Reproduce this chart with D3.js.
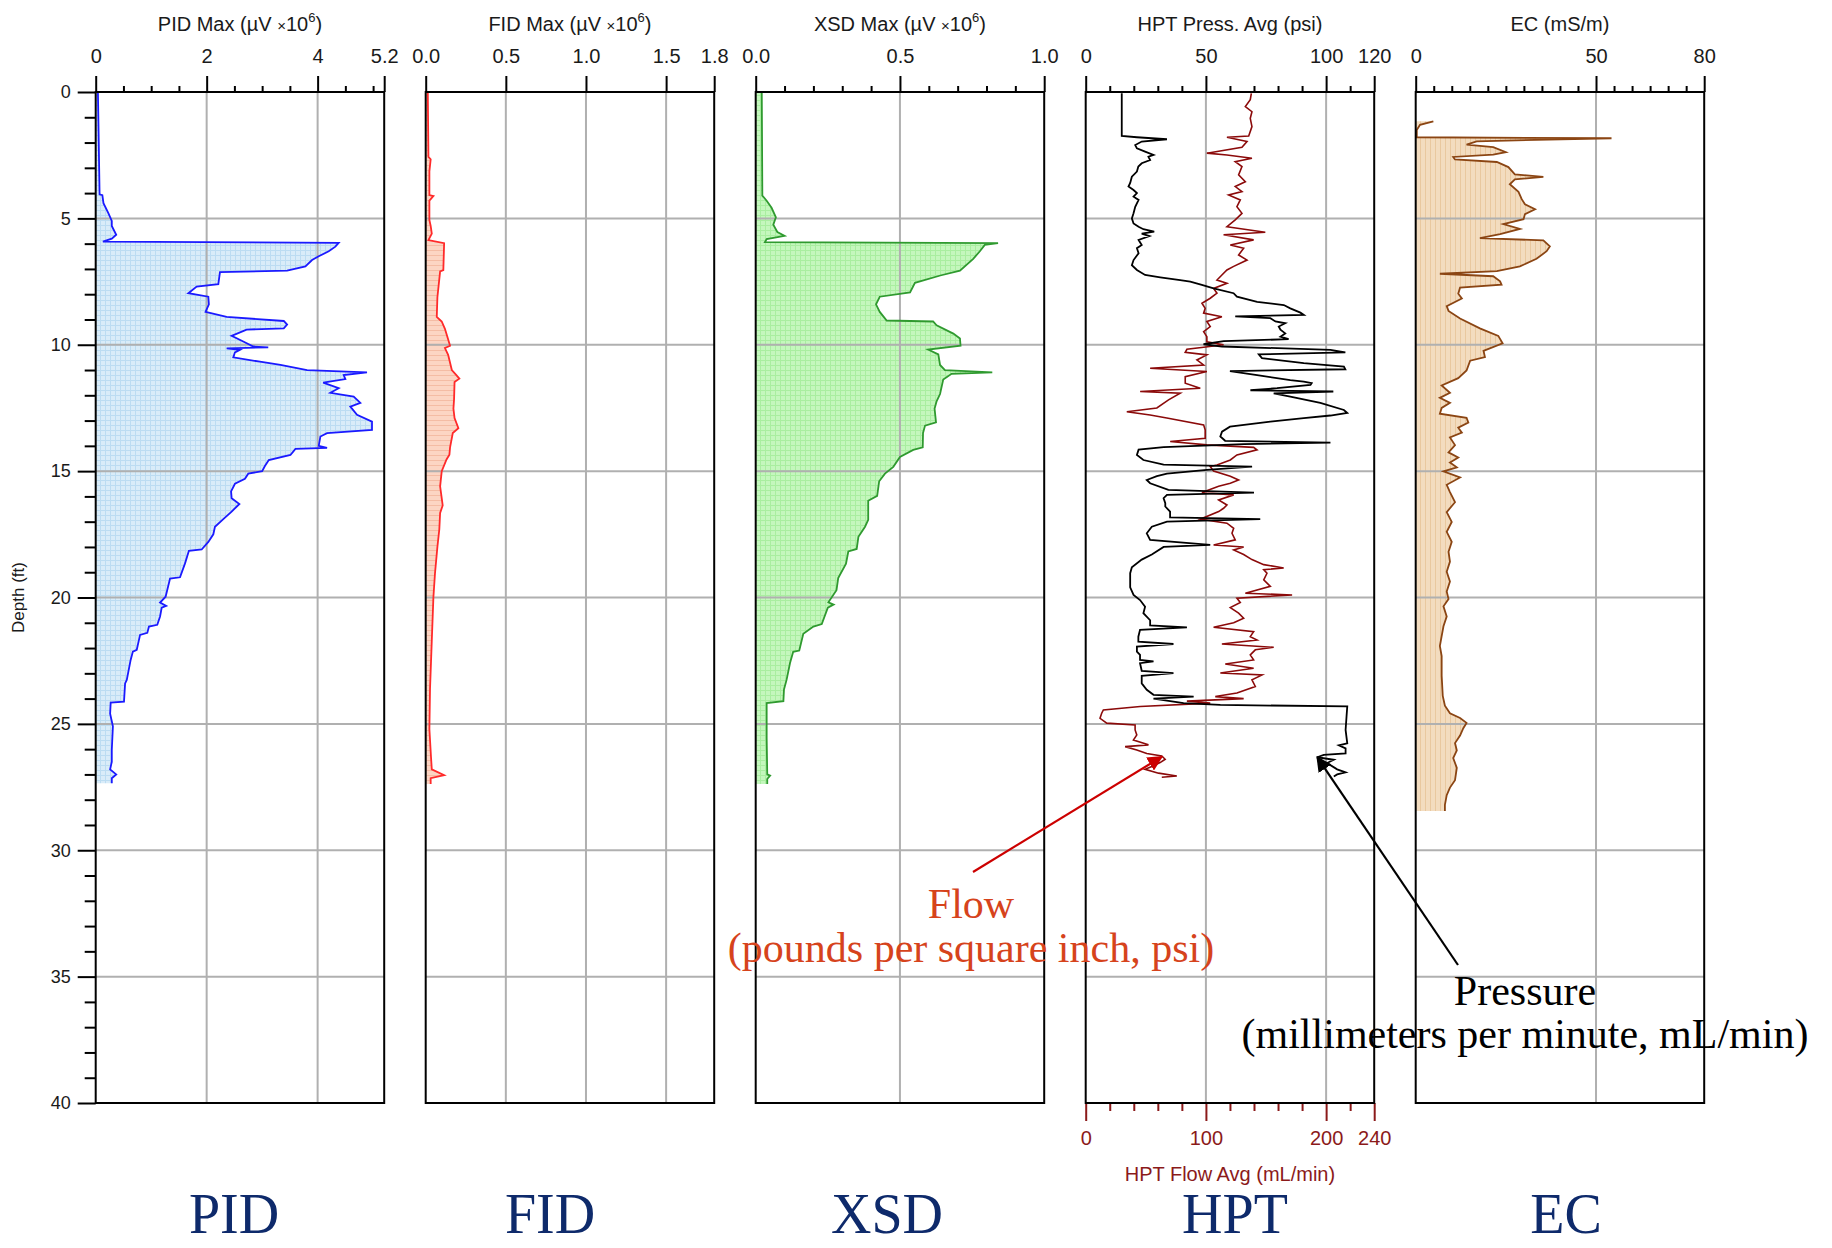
<!DOCTYPE html>
<html lang="en">
<head>
<meta charset="utf-8">
<script src="https://d3js.org/d3.v7.min.js"></script>
<style>
  body { margin: 0; background: #fff; }
  svg text { font-family: "Liberation Sans", Arial, sans-serif; fill: #1a1a1a; }
  .tick line { stroke: #000; stroke-width: 2; }
  .tick text { font-size: 20px; }
  .grid line { stroke: #b0b0b0; stroke-width: 2; }
  .serif { font-family: "Liberation Serif", "Times New Roman", serif !important; }
</style>
</head>
<body>
<svg id="chart" width="1832" height="1248"></svg>
<script>
// [depth ft, value]
const pid = [[0,0.04],[4.05,0.07],[4.08,0.12],[4.4,0.14],[4.8,0.23],[5.1,0.29],[5.3,0.29],[5.65,0.37],[5.8,0.29],[5.92,0.13],[5.97,4.38],[6.12,4.32],[6.3,4.2],[6.5,4.02],[6.65,3.9],[6.9,3.78],[7.07,3.45],[7.13,2.24],[7.6,2.21],[7.7,1.82],[7.96,1.67],[8.1,2.03],[8.4,2.04],[8.7,1.98],[8.9,2.36],[9.06,3.39],[9.2,3.45],[9.35,3.39],[9.4,2.72],[9.65,2.45],[9.87,2.66],[10.07,2.84],[10.1,3.11],[10.14,2.36],[10.2,2.6],[10.3,2.51],[10.5,2.48],[10.67,2.96],[10.8,3.33],[11.0,3.81],[11.09,4.89],[11.2,4.47],[11.36,4.5],[11.5,4.1],[11.72,4.38],[11.9,4.23],[12.05,4.65],[12.3,4.77],[12.45,4.59],[12.77,4.71],[13.04,4.98],[13.37,4.98],[13.5,4.17],[13.63,4.05],[14.0,4.02],[14.08,4.17],[14.12,3.6],[14.36,3.51],[14.56,3.12],[14.8,3.05],[15.0,3.0],[15.1,2.75],[15.3,2.69],[15.5,2.51],[15.8,2.44],[16.07,2.45],[16.3,2.59],[16.6,2.45],[16.9,2.3],[17.2,2.15],[17.5,2.12],[17.8,2.03],[18.1,1.91],[18.15,1.68],[18.65,1.61],[19.2,1.52],[19.25,1.34],[19.97,1.26],[20.2,1.16],[20.33,1.27],[20.4,1.19],[20.75,1.16],[21.08,1.11],[21.15,0.96],[21.4,0.93],[21.48,0.8],[22.07,0.74],[22.14,0.67],[22.47,0.63],[23.26,0.56],[23.4,0.53],[24.12,0.51],[24.16,0.27],[24.6,0.26],[25.1,0.31],[26.03,0.29],[26.5,0.29],[26.8,0.26],[27.0,0.37],[27.15,0.29],[27.35,0.29]];

const fid = [[0,0.013],[2.57,0.017],[2.66,0.031],[3.14,0.023],[4.08,0.023],[4.12,0.048],[4.3,0.023],[5.06,0.023],[5.3,0.031],[5.6,0.038],[5.86,0.017],[5.98,0.115],[7.05,0.11],[7.1,0.09],[8.12,0.073],[8.9,0.069],[9.08,0.1],[9.37,0.12],[10.04,0.152],[10.13,0.12],[10.4,0.14],[11.0,0.163],[11.19,0.19],[11.34,0.21],[11.47,0.18],[12.15,0.177],[12.53,0.173],[12.9,0.18],[13.3,0.204],[13.49,0.169],[14.06,0.152],[14.35,0.148],[14.54,0.13],[15.0,0.1],[15.6,0.09],[16.36,0.106],[16.65,0.09],[17.3,0.085],[18.0,0.073],[19.04,0.058],[20.0,0.048],[21.7,0.038],[23.6,0.027],[25.2,0.023],[26.3,0.033],[26.8,0.038],[27.03,0.115],[27.15,0.031],[27.38,0.031]];

const xsd = [[0,0.021],[4.1,0.023],[4.3,0.038],[4.58,0.055],[4.96,0.07],[5.25,0.061],[5.54,0.075],[5.69,0.10],[5.82,0.038],[5.94,0.032],[5.98,0.84],[6.05,0.794],[6.3,0.777],[6.6,0.754],[7.07,0.708],[7.26,0.64],[7.55,0.552],[7.93,0.535],[8.1,0.43],[8.4,0.417],[8.7,0.43],[9.04,0.454],[9.08,0.615],[9.23,0.627],[9.56,0.685],[9.75,0.708],[10.04,0.71],[10.19,0.598],[10.38,0.633],[10.8,0.639],[11.0,0.656],[11.09,0.82],[11.15,0.679],[11.38,0.65],[11.95,0.639],[12.24,0.627],[12.53,0.62],[13.07,0.625],[13.2,0.587],[13.49,0.58],[14.06,0.579],[14.16,0.546],[14.44,0.5],[14.83,0.477],[15.1,0.448],[15.4,0.428],[15.98,0.421],[16.17,0.39],[16.93,0.39],[17.2,0.379],[17.6,0.356],[18.08,0.35],[18.18,0.321],[18.66,0.313],[19.23,0.286],[19.71,0.28],[20.19,0.252],[20.28,0.27],[20.4,0.25],[21.05,0.229],[21.15,0.2],[21.44,0.165],[22.1,0.151],[22.15,0.13],[22.59,0.119],[23.26,0.107],[23.64,0.098],[24.1,0.096],[24.18,0.038],[25.56,0.038],[27.0,0.04],[27.05,0.05],[27.18,0.04],[27.38,0.04]];

// psi
const hptPress = [[0.05,15],[0.7,15],[1.74,15],[1.79,21.3],[1.87,33.8],[1.96,23.3],[2.1,20.6],[2.23,21.3],[2.36,24.7],[2.49,28.2],[2.56,26.1],[2.69,26.8],[2.82,23.3],[2.95,21.9],[3.15,21.3],[3.35,19.2],[3.6,18.5],[3.74,17.8],[3.88,19.9],[4.0,21.3],[4.14,19.9],[4.27,22.0],[4.54,20.6],[4.8,19.9],[5.0,19.2],[5.2,19.9],[5.33,22.0],[5.43,24.0],[5.52,28.5],[5.6,23.3],[5.7,26.5],[5.85,22.0],[6.05,23.3],[6.18,21.3],[6.38,22.0],[6.65,19.9],[6.85,19.2],[7.04,21.3],[7.24,24.7],[7.33,31.0],[7.44,39.3],[7.5,43.5],[7.63,48.3],[7.77,53.2],[7.96,61.5],[8.1,62.9],[8.3,71.3],[8.43,82.4],[8.56,85.1],[8.73,89.3],[8.82,90.7],[8.88,62.2],[8.95,76.8],[9.08,78.9],[9.15,83.0],[9.28,80.3],[9.4,81.0],[9.55,83.0],[9.68,81.0],[9.78,84.4],[9.86,57.4],[9.98,49.0],[10.07,56.7],[10.2,101.8],[10.3,108.0],[10.38,72.0],[10.53,73.3],[10.73,90.7],[10.86,107.4],[10.97,108.0],[11.04,60.0],[11.2,71.3],[11.4,85.1],[11.46,90.7],[11.52,94.0],[11.59,93.5],[11.72,79.6],[11.8,68.5],[11.85,103.0],[11.92,78.2],[12.05,85.1],[12.3,97.6],[12.58,107.4],[12.7,108.8],[12.8,101.8],[12.9,90.7],[13.04,76.8],[13.24,60.0],[13.44,56.7],[13.63,56.0],[13.8,58.0],[13.87,101.8],[13.93,65.7],[14.05,32.4],[14.15,22.0],[14.36,21.3],[14.56,24.0],[14.74,32.4],[14.82,69.2],[14.95,50.4],[15.1,33.8],[15.2,29.6],[15.35,25.4],[15.48,26.8],[15.74,34.4],[15.85,70.0],[15.94,33.8],[16.07,32.4],[16.27,33.1],[16.4,33.1],[16.6,35.1],[16.83,35.1],[16.9,72.6],[17.0,33.8],[17.2,27.5],[17.46,25.4],[17.72,26.8],[17.92,51.8],[18.0,32.4],[18.3,27.5],[18.5,23.3],[18.8,19.2],[19.04,18.5],[19.6,18.5],[19.9,19.9],[20.1,22.6],[20.36,24.7],[20.62,24.0],[20.9,26.8],[21.1,26.8],[21.18,42.1],[21.28,22.6],[21.55,21.9],[21.75,21.9],[21.84,36.5],[21.94,21.3],[22.14,21.3],[22.27,22.6],[22.47,22.6],[22.53,28.2],[22.6,22.6],[22.9,23.3],[22.99,36.5],[23.1,23.3],[23.4,23.3],[23.65,25.4],[23.85,28.2],[23.92,44.9],[24.0,28.2],[24.18,40.7],[24.25,56.0],[24.31,108.8],[24.7,108.5],[25.24,108.1],[25.77,108.8],[25.85,105.3],[25.97,108.1],[26.17,108.1],[26.23,99.0],[26.32,96.3],[26.42,103.2],[26.55,100.4],[26.8,104.6],[26.92,108.1],[27.0,104.6],[27.08,103.2]];

// mL/min
const hptFlow = [[0.05,137.8],[0.3,136.9],[0.58,132.8],[0.78,138.3],[1.04,136.9],[1.37,138.3],[1.74,135.6],[1.79,117.5],[1.96,134.2],[2.19,130.0],[2.42,100.8],[2.49,117.5],[2.62,138.3],[2.76,124.4],[2.95,130.0],[3.28,127.2],[3.55,132.8],[3.74,124.4],[3.94,130.0],[4.07,118.9],[4.27,128.6],[4.54,125.8],[4.8,130.0],[5.06,124.4],[5.33,117.5],[5.55,149.4],[5.65,114.7],[5.85,139.7],[6.05,120.3],[6.18,131.4],[6.45,127.2],[6.65,134.2],[6.9,123.1],[7.04,117.5],[7.24,113.3],[7.44,109.2],[7.57,117.5],[7.77,106.4],[7.96,109.2],[8.16,103.6],[8.36,96.7],[8.56,99.4],[8.75,98.1],[8.89,113.3],[9.08,100.8],[9.28,103.6],[9.48,98.1],[9.68,100.8],[9.88,100.8],[10.0,114.7],[10.1,98.1],[10.18,84.2],[10.3,82.8],[10.4,100.8],[10.6,92.5],[10.8,98.1],[10.93,53.6],[11.06,100.8],[11.26,82.8],[11.52,82.8],[11.72,95.3],[11.85,45.3],[11.92,78.6],[12.18,68.9],[12.5,59.2],[12.65,34.2],[12.78,53.6],[12.9,67.5],[13.17,98.1],[13.37,99.4],[13.7,99.4],[13.83,70.3],[13.96,100.8],[14.06,139.7],[14.16,142.5],[14.36,125.8],[14.56,120.3],[14.76,109.2],[14.82,103.6],[15.0,106.4],[15.2,120.3],[15.35,127.2],[15.48,120.3],[15.6,110.6],[15.85,96.7],[15.94,123.1],[16.14,110.6],[16.34,117.5],[16.47,114.7],[16.6,110.6],[16.9,95.3],[17.06,117.5],[17.26,123.1],[17.46,121.7],[17.72,124.4],[17.92,106.4],[18.0,131.4],[18.12,123.1],[18.3,131.4],[18.5,138.3],[18.7,148.1],[18.83,164.7],[18.9,148.1],[19.04,150.8],[19.3,148.1],[19.56,153.6],[19.83,132.8],[19.9,171.7],[20.03,125.8],[20.2,128.6],[20.4,120.3],[20.62,127.2],[20.82,131.4],[21.0,123.1],[21.18,106.4],[21.35,139.7],[21.55,136.9],[21.68,142.5],[21.84,113.3],[21.97,156.4],[22.07,141.1],[22.27,136.9],[22.47,139.7],[22.63,116.1],[22.8,139.7],[22.99,112.0],[23.06,146.7],[23.26,138.3],[23.52,141.1],[23.78,125.8],[23.92,107.8],[24.0,131.4],[24.1,84.2],[24.18,103.6],[24.31,45.3],[24.45,14.7],[24.58,13.3],[24.78,11.9],[24.97,17.5],[25.04,41.1],[25.24,41.1],[25.44,42.5],[25.64,39.7],[25.83,52.2],[25.9,32.8],[26.03,42.5],[26.17,50.8],[26.27,63.3],[26.4,66.1],[26.53,61.9],[26.69,55.0],[26.8,49.4],[26.95,60.6],[27.06,75.8],[27.11,63.3]];

// mS/m
const ec = [[1.16,4.9],[1.3,1.2],[1.5,0.3],[1.79,0.3],[1.83,54.3],[1.95,16.9],[2.08,14.1],[2.18,21.5],[2.38,25.0],[2.48,21.5],[2.57,10.4],[2.67,10.9],[2.77,22.5],[2.97,25.7],[3.26,27.5],[3.36,35.4],[3.46,27.5],[3.65,26.1],[3.95,28.5],[4.24,29.4],[4.44,30.3],[4.64,33.1],[4.83,30.3],[5.03,29.9],[5.23,24.3],[5.42,28.9],[5.62,23.4],[5.78,17.8],[5.87,35.4],[6.11,37.2],[6.3,36.3],[6.6,33.5],[6.9,28.9],[7.09,22.5],[7.19,6.7],[7.29,21.5],[7.49,23.4],[7.62,23.8],[7.74,12.3],[7.98,11.8],[8.17,12.8],[8.47,8.6],[8.66,9.1],[8.96,12.3],[9.35,17.8],[9.65,22.9],[9.94,24.1],[10.24,18.8],[10.49,19.2],[10.63,15.1],[11.02,14.1],[11.32,11.8],[11.61,7.2],[11.9,9.5],[12.1,6.7],[12.3,9.5],[12.5,7.2],[12.73,6.7],[12.89,14.1],[13.08,14.6],[13.28,11.8],[13.48,12.8],[13.67,9.5],[13.97,10.9],[14.26,9.1],[14.46,11.8],[14.66,9.5],[14.85,11.4],[15.01,7.7],[15.25,12.3],[15.54,8.6],[15.83,9.5],[16.23,10.9],[16.62,8.6],[17.01,10.0],[17.4,8.6],[17.8,10.0],[18.19,9.1],[18.58,9.5],[18.98,8.6],[19.37,9.5],[19.76,8.6],[20.06,9.1],[20.35,7.7],[20.75,8.6],[21.14,7.7],[21.53,7.2],[21.92,6.7],[22.32,7.2],[23.1,7.2],[23.89,7.5],[24.28,8.1],[24.58,9.5],[24.77,12.3],[24.96,14.1],[25.17,13.2],[25.46,12.3],[25.76,10.9],[26.05,11.4],[26.35,10.4],[26.74,11.4],[27.23,10.9],[27.52,9.5],[27.82,8.6],[28.2,8.1],[28.45,8.1]];

const pidTicks = [0, 2, 4, 5.2], pidMinor = [0.5, 1, 1.5, 2.5, 3, 3.5, 4.5, 5];
const fidTicks = [0, 0.5, 1.0, 1.5, 1.8], fidMinor = [];
const xsdTicks = [0, 0.5, 1.0], xsdMinor = [0.1, 0.2, 0.3, 0.4, 0.6, 0.7, 0.8, 0.9];
const pressTicks = [0, 50, 100, 120], pressMinor = [10, 20, 30, 40, 60, 70, 80, 90, 110];
const flowTicks = [0, 100, 200, 240], flowMinor = [20, 40, 60, 80, 120, 140, 160, 180, 220];
const ecTicks = [0, 50, 80], ecMinor = [5, 10, 15, 20, 25, 30, 35, 40, 45, 55, 60, 65, 70, 75];
const depthTicks = [0, 5, 10, 15, 20, 25, 30, 35, 40];
const depthMinor = d3.range(0, 41, 1).filter(d => d % 5);
const panelNames = ["PID", "FID", "XSD", "HPT", "EC"];

const svg = d3.select("#chart");
const yTop = 92, yBot = 1103, pw = 288.5;
const px = [95.7, 425.7, 755.7, 1085.7, 1415.7];
const y = d3.scaleLinear().domain([0, 40]).range([yTop, yBot]);

// fill patterns
const defs = svg.append("defs");
function hatch(id, bg, ln, vert, horiz) {
    const p = defs.append("pattern").attr("id", id).attr("patternUnits", "userSpaceOnUse")
        .attr("width", 5).attr("height", 5);
    p.append("rect").attr("width", 5).attr("height", 5).attr("fill", bg);
    if (vert) p.append("path").attr("d", "M0.5 0V5").attr("stroke", ln).attr("stroke-width", 1);
    if (horiz) p.append("path").attr("d", "M0 0.5H5").attr("stroke", ln).attr("stroke-width", 1);
}
hatch("fPID", "#d9ecf9", "#bcdcf2", true, true);
hatch("fFID", "#fcd5c3", "#f4bca4", false, true);
hatch("fXSD", "#c4f7bd", "#a9eea0", true, true);
hatch("fEC", "#f3dcbf", "#e9c89f", true, false);

function marker(id, color) {
    defs.append("marker").attr("id", id).attr("viewBox", "0 0 10 10")
        .attr("refX", 9).attr("refY", 5).attr("markerWidth", 7).attr("markerHeight", 7)
        .attr("markerUnits", "strokeWidth").attr("orient", "auto")
        .append("path").attr("d", "M0,0 L10,5 L0,10 Z").attr("fill", color);
}
marker("arRed", "#cc0000");
marker("arBlk", "#000");

const panels = [
    { name: "PID", data: pid, max: 5.2, ticks: pidTicks, minor: pidMinor, grid: [2, 4], fmt: d => d, title: "PID Max", sci: true, fill: "url(#fPID)", stroke: "#1a1aff" },
    { name: "FID", data: fid, max: 1.8, ticks: fidTicks, minor: fidMinor, grid: [0.5, 1.0, 1.5], fmt: d3.format(".1f"), title: "FID Max", sci: true, fill: "url(#fFID)", stroke: "#ff2a2a" },
    { name: "XSD", data: xsd, max: 1.0, ticks: xsdTicks, minor: xsdMinor, grid: [0.5], fmt: d3.format(".1f"), title: "XSD Max", sci: true, fill: "url(#fXSD)", stroke: "#2f9a2f" },
    { name: "HPT", data: null, max: 120, ticks: pressTicks, minor: pressMinor, grid: [50, 100], fmt: d => d, title: "HPT Press. Avg (psi)", sci: false },
    { name: "EC", data: ec, max: 80, ticks: ecTicks, minor: ecMinor, grid: [50], fmt: d => d, title: "EC (mS/m)", sci: false, fill: "url(#fEC)", stroke: "#8b4513" }
];

panels.forEach((p, i) => {
    const x = d3.scaleLinear().domain([0, p.max]).range([px[i], px[i] + pw]);
    const g = svg.append("g");

    if (p.data) {
        g.append("path").datum(p.data)
            .attr("fill", p.fill)
            .attr("d", d3.area().y(d => y(d[0])).x0(x(0)).x1(d => x(d[1])));
    }

    // grid
    const grid = g.append("g").attr("class", "grid");
    grid.selectAll(".v").data(p.grid).enter().append("line")
        .attr("x1", d => x(d)).attr("x2", d => x(d)).attr("y1", yTop).attr("y2", yBot);
    grid.selectAll(".h").data(depthTicks.slice(1, -1)).enter().append("line")
        .attr("x1", px[i]).attr("x2", px[i] + pw).attr("y1", d => y(d)).attr("y2", d => y(d));

    if (p.data) {
        g.append("path").datum(p.data)
            .attr("fill", "none").attr("stroke", p.stroke).attr("stroke-width", 1.8)
            .attr("d", d3.line().y(d => y(d[0])).x(d => x(d[1])));
    } else {
        // HPT: flow on bottom scale, pressure on top scale
        const xf = d3.scaleLinear().domain([0, 240]).range([px[i], px[i] + pw]);
        g.append("path").datum(hptFlow)
            .attr("fill", "none").attr("stroke", "#8b0a0a").attr("stroke-width", 1.6)
            .attr("d", d3.line().y(d => y(d[0])).x(d => xf(d[1])));
        g.append("path").datum(hptPress)
            .attr("fill", "none").attr("stroke", "#000").attr("stroke-width", 1.8)
            .attr("d", d3.line().y(d => y(d[0])).x(d => x(d[1])));

        const ax = g.append("g").attr("transform", `translate(0,${yBot})`)
            .call(d3.axisBottom(xf).tickValues(flowTicks).tickSize(18).tickPadding(10).tickSizeOuter(0));
        const axm = g.append("g").attr("transform", `translate(0,${yBot})`)
            .call(d3.axisBottom(xf).tickValues(flowMinor).tickSize(8).tickFormat("").tickSizeOuter(0));
        [ax, axm].forEach(a => {
            a.select(".domain").remove();
            a.selectAll(".tick line").style("stroke", "#8b1a1a");
            a.selectAll(".tick text").style("fill", "#8b1a1a");
        });
        g.append("text").attr("x", x(60)).attr("y", 1181).attr("text-anchor", "middle")
            .style("font-size", "20px").style("fill", "#8b1a1a").text("HPT Flow Avg (mL/min)");
    }

    // border
    g.append("rect").attr("x", px[i]).attr("y", yTop).attr("width", pw).attr("height", yBot - yTop)
        .attr("fill", "none").attr("stroke", "#000").attr("stroke-width", 2);

    // top axis
    const at = g.append("g").attr("transform", `translate(0,${yTop})`)
        .call(d3.axisTop(x).tickValues(p.ticks).tickSize(16).tickPadding(13).tickFormat(p.fmt).tickSizeOuter(0));
    at.select(".domain").remove();
    if (p.minor.length) {
        const am = g.append("g").attr("transform", `translate(0,${yTop})`)
            .call(d3.axisTop(x).tickValues(p.minor).tickSize(6).tickFormat("").tickSizeOuter(0));
        am.select(".domain").remove();
    }

    // title
    const t = g.append("text").attr("x", px[i] + pw / 2).attr("y", 31).attr("text-anchor", "middle")
        .style("font-size", "20px");
    if (p.sci) {
        t.append("tspan").text(p.title + " (\u00b5V ");
        t.append("tspan").style("font-size", "15px").text("\u00d7");
        t.append("tspan").text("10");
        t.append("tspan").attr("dy", -9).style("font-size", "13px").text("6");
        t.append("tspan").attr("dy", 9).text(")");
    } else {
        t.text(p.title);
    }
});

// depth axis
const ay = svg.append("g").attr("transform", `translate(${px[0]},0)`)
    .call(d3.axisLeft(y).tickValues(depthTicks).tickSize(18).tickPadding(7).tickSizeOuter(0));
ay.select(".domain").remove();
ay.selectAll(".tick text").style("font-size", "18px");
const aym = svg.append("g").attr("transform", `translate(${px[0]},0)`)
    .call(d3.axisLeft(y).tickValues(depthMinor).tickSize(11).tickFormat("").tickSizeOuter(0));
aym.select(".domain").remove();
svg.append("text").attr("transform", `translate(24,${y(20)}) rotate(-90)`).attr("text-anchor", "middle")
    .style("font-size", "17px").text("Depth (ft)");

// panel names
const nameX = [234, 550, 887, 1235, 1566];
svg.selectAll(".pname").data(panelNames).enter().append("text")
    .attr("class", "serif").attr("x", (d, i) => nameX[i]).attr("y", 1233).attr("text-anchor", "middle")
    .style("font-size", "56px").style("fill", "#0e2a6b").text(d => d);

// annotations
const xp = d3.scaleLinear().domain([0, 120]).range([px[3], px[3] + pw]);
const xf2 = d3.scaleLinear().domain([0, 240]).range([px[3], px[3] + pw]);
svg.append("line").attr("x1", 973).attr("y1", 872).attr("x2", xf2(63.3)).attr("y2", y(26.3))
    .attr("stroke", "#cc0000").attr("stroke-width", 2.2).attr("marker-end", "url(#arRed)");
svg.append("line").attr("x1", 1458).attr("y1", 965).attr("x2", xp(96.3)).attr("y2", y(26.32))
    .attr("stroke", "#000").attr("stroke-width", 2.2).attr("marker-end", "url(#arBlk)");

const ann = [
    { x: 971, y: 918, t: "Flow", c: "#d6431c" },
    { x: 971, y: 962, t: "(pounds per square inch, psi)", c: "#d6431c" },
    { x: 1525, y: 1005, t: "Pressure", c: "#000" },
    { x: 1525, y: 1048, t: "(millimeters per minute, mL/min)", c: "#000" }
];
svg.selectAll(".ann").data(ann).enter().append("text").attr("class", "serif")
    .attr("x", d => d.x).attr("y", d => d.y).attr("text-anchor", "middle")
    .style("font-size", "42px").style("fill", d => d.c).text(d => d.t);
</script>
</body>
</html>
